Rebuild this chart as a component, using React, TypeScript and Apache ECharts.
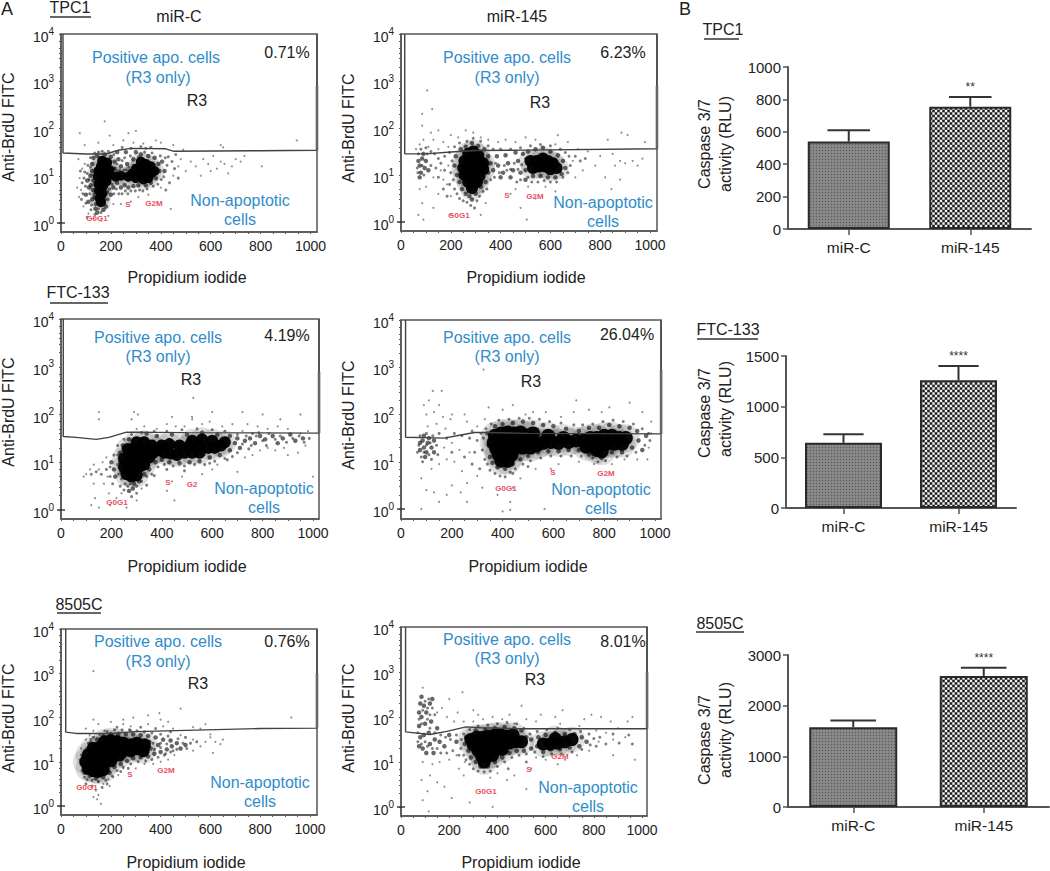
import React, { useEffect, useRef } from "react";
import * as echarts from "echarts";

type P = number[][];

const xTickLabels = [0, 200, 400, 600, 800, 1000];
const xTickMarks = [0, 50, 100, 150, 200, 250, 300, 350, 400, 450, 500, 550, 600, 650, 700, 750, 800, 850, 900, 950, 1000];
const yTickLabels = [0, 1, 2, 3, 4];
const yTickMarks = [0, 0.3, 0.48, 0.6, 0.7, 0.85, 1, 1.3, 1.48, 1.6, 1.7, 1.85, 2, 2.3, 2.48, 2.6, 2.7, 2.85, 3, 3.3, 3.48, 3.6, 3.7, 3.85, 4];

// ---- TPC1 miR-C
const p1Core: P = [[165,1.32],[185,1.28],[160,1.2],[180,1.18],[195,1.12],[150,1.1],[170,1.05],[190,1.0],[148,.98],[165,.92],[182,.88],[150,.82],[168,.78],[152,.68],[165,.62],[155,.52],[160,.44],[285,1.05],[300,1.15],[320,1.3],[340,1.25],[360,1.2],[375,1.1],[360,1.05],[340,1.1],[320,1.05],[300,.95],[330,.92],[350,.95],[315,1.18],[270,.98],[240,1.0],[220,.98]];
const p1Mid: P = [[125,1.1],[130,.9],[128,.7],[135,.55],[125,.5],[140,.4],[138,.3],[175,.5],[180,.35],[170,.28],[145,.22],[120,.8],[118,1.0],[112,.75],[105,.9],[125,1.25],[130,1.38],[145,1.42],[175,1.45],[200,1.4],[215,1.3],[215,1.15],[225,.85],[210,.75],[200,.6],[240,.75],[255,.8],[270,.75],[290,.78],[310,.8],[340,.8],[360,.85],[380,.95],[395,1.1],[390,1.25],[375,1.38],[350,1.42],[320,1.45],[290,1.35],[265,1.25],[240,1.2],[230,1.35],[100,.6],[110,.45],[185,.65],[415,1.1],[405,1.3],[260,1.5],[300,1.5],[225,1.5]];
const p1Dust: P = [[105,1.05],[115,.62],[122,.38],[132,.62],[118,1.18],[128,1.02],[112,.92],[98,.78],[92,.95],[88,.62],[100,.42],[120,.28],[136,.18],[150,.3],[160,.22],[175,.42],[188,.5],[195,.72],[205,.82],[212,.62],[222,.72],[232,.62],[245,.62],[258,.68],[268,.62],[280,.68],[298,.68],[315,.7],[328,.68],[345,.72],[370,.78],[388,.82],[402,.92],[412,.98],[425,1.22],[418,1.38],[398,1.42],[365,1.48],[335,1.5],[310,1.4],[278,1.42],[255,1.38],[245,1.32],[225,1.25],[212,1.45],[190,1.52],[165,1.52],[150,1.5],[135,1.48],[118,1.38],[108,1.22],[252,1.12],[262,1.12],[272,1.18],[235,1.12],[225,1.1],[430,1.4],[445,1.3],[435,.85],[420,.7],[460,1.45],[455,1.15],[470,.95],[95,1.08],[85,.85],[78,1.1],[82,.5],[105,.12],[360,1.6],[340,1.58],[320,1.62],[280,1.58],[245,1.6]];
const p1Sparse: P = [[75,.95],[80,.7],[72,.55],[85,1.15],[95,1.25],[70,1.35],[65,.75],[90,.35],[110,.2],[130,.1],[160,.05],[190,.15],[210,.4],[240,.4],[280,.45],[310,.55],[350,.6],[400,.75],[440,.3],[450,1.0],[470,1.2],[480,1.35],[500,1.1],[520,1.3],[540,1.2],[560,1.0],[570,1.35],[590,1.25],[600,1.1],[610,1.42],[625,1.15],[640,1.3],[655,1.25],[670,1.05],[685,1.2],[700,1.35],[720,1.3],[735,1.42],[805,1.2],[450,1.65],[490,1.55],[400,1.7],[380,1.75],[330,1.68],[290,1.7],[270,1.9],[250,1.75],[210,1.65],[175,2.15],[195,1.85],[75,1.9],[95,1.65],[945,1.75],[640,1.65],[650,1.6],[300,1.95],[150,1.7]];
const p1Gate: P = [[8,4],[8,1.48],[100,1.46],[180,1.46],[230,1.54],[280,1.58],[420,1.57],[450,1.52],[800,1.53],[1026,1.54],[1026,4]];
const p1Edge: P = [[1026,1.54],[1026,2.9]];

// ---- TPC1 miR-145
const p2Core: P = [[270,1.45],[290,1.5],[310,1.42],[255,1.3],[275,1.32],[295,1.33],[315,1.3],[330,1.25],[250,1.15],[270,1.15],[290,1.17],[310,1.15],[330,1.12],[255,1.0],[275,1.0],[295,1.0],[315,.98],[270,.85],[290,.82],[305,.85],[285,.72],[520,1.3],[545,1.3],[570,1.35],[590,1.3],[610,1.25],[530,1.15],[555,1.18],[580,1.18],[600,1.12],[625,1.15]];
const p2Mid: P = [[220,1.4],[215,1.2],[225,1.0],[235,.85],[245,.7],[260,.6],[275,.55],[300,.6],[285,.48],[320,.75],[340,.85],[350,1.05],[360,1.25],[350,1.4],[335,1.55],[310,1.62],[285,1.68],[260,1.6],[240,1.55],[370,1.1],[390,1.2],[410,1.05],[430,1.25],[450,1.1],[470,1.3],[385,1.4],[420,1.42],[460,1.48],[400,.95],[440,.95],[480,1.05],[500,1.1],[490,1.45],[510,1.5],[540,1.55],[570,1.58],[600,1.5],[630,1.42],[650,1.3],[660,1.15],[645,1.02],[620,.95],[590,.95],[560,.98],[530,.98],[500,.9],[75,1.2],[85,1.35],[80,1.05],[95,1.15],[70,1.3],[100,1.3],[110,1.1],[75,.95],[90,1.45]];
const p2Dust: P = [[205,1.3],[200,1.05],[210,.9],[195,.8],[215,.7],[225,.6],[235,.5],[250,.45],[265,.42],[280,.35],[295,.3],[305,.45],[315,.55],[330,.65],[345,.7],[360,.9],[375,.95],[380,1.25],[395,1.05],[415,1.2],[425,1.1],[440,1.12],[455,1.25],[470,1.12],[485,1.22],[500,1.35],[480,.9],[465,.85],[510,.95],[525,.85],[550,.85],[575,.88],[600,.85],[625,.85],[650,.95],[670,1.05],[680,1.2],[675,1.4],[660,1.48],[640,1.55],[600,1.62],[560,1.65],[520,1.62],[480,1.58],[440,1.55],[400,1.55],[370,1.55],[350,1.62],[320,1.72],[290,1.78],[265,1.72],[235,1.68],[215,1.6],[195,1.48],[175,1.4],[160,1.25],[175,1.1],[150,1.35],[135,1.45],[120,1.5],[100,1.58],[70,1.45],[65,1.15],[85,1.2],[92,1.0],[105,1.45],[80,1.55],[68,1.05],[120,1.2],[140,1.15],[150,.95],[170,.7],[185,.55],[700,1.4],[720,1.3],[740,1.35]];
const p2Sparse: P = [[60,1.55],[75,1.65],[90,1.75],[110,1.6],[130,1.75],[150,1.55],[170,1.7],[190,1.6],[120,1.9],[85,2.05],[105,2.8],[125,2.4],[85,2.3],[150,1.95],[200,1.85],[230,1.8],[260,1.95],[290,1.9],[320,1.8],[350,1.75],[390,1.7],[420,1.75],[460,1.7],[500,1.8],[540,1.75],[620,1.65],[670,1.7],[630,1.85],[710,1.55],[750,1.5],[800,1.4],[850,1.45],[880,1.3],[900,1.25],[930,1.3],[970,1.35],[950,1.2],[860,1.2],[780,1.2],[730,1.1],[700,.95],[690,1.3],[820,.95],[845,.7],[880,.9],[830,1.75],[885,1.9],[910,1.85],[980,1.7],[75,.7],[85,.4],[70,.15],[90,.05],[100,.75],[130,.95],[150,.6],[130,.3],[170,.9],[200,.55],[200,.15],[185,.8],[160,1.1],[190,1.2],[440,.6],[460,.7],[480,.3],[510,.75],[540,.5],[505,.05],[580,.75],[620,.65],[340,.4],[320,.15]];
const p2Gate: P = [[15,4],[15,1.45],[100,1.45],[200,1.49],[300,1.52],[500,1.53],[1028,1.56],[1028,4]];
const p2Edge: P = [[1028,1.56],[1028,2.9]];

// ---- FTC-133 miR-C
const p3Core: P = [[260,.75],[280,.7],[300,.72],[250,.9],[270,.9],[290,.9],[310,.9],[330,.95],[250,1.08],[270,1.1],[290,1.1],[310,1.1],[330,1.12],[350,1.1],[265,1.28],[285,1.28],[305,1.28],[325,1.28],[345,1.25],[365,1.2],[300,1.42],[330,1.42],[360,1.35],[385,1.25],[410,1.2],[435,1.18],[460,1.15],[490,1.2],[520,1.2],[550,1.2],[400,1.35],[430,1.38],[470,1.35],[510,1.35],[550,1.35],[585,1.3],[610,1.3],[635,1.35],[600,1.45],[560,1.48],[520,1.45],[650,1.42]];
const p3Mid: P = [[240,.8],[235,1.0],[235,1.2],[245,1.35],[270,1.48],[290,.55],[310,.6],[330,.75],[350,.85],[375,1.0],[400,1.05],[430,1.0],[470,.98],[510,1.0],[550,1.02],[590,1.1],[630,1.15],[670,1.25],[690,1.4],[700,1.5],[670,1.55],[620,1.58],[560,1.62],[500,1.58],[440,1.58],[380,1.55],[340,1.6],[710,1.3],[730,1.45],[750,1.5],[770,1.4],[790,1.55],[810,1.48],[840,1.55],[860,1.4],[880,1.5],[910,1.58],[930,1.45],[960,1.5],[210,.85],[200,1.0],[215,.7],[270,.4],[285,.45]];
const p3Dust: P = [[225,.95],[225,1.15],[228,.75],[240,.65],[255,.55],[265,.5],[275,.55],[300,.5],[320,.6],[340,.7],[360,.75],[385,.9],[410,.95],[445,.92],[490,.92],[530,.95],[570,.95],[610,1.02],[650,1.08],[680,1.12],[700,1.2],[720,1.38],[735,1.55],[700,1.58],[650,1.65],[600,1.68],[540,1.7],[480,1.68],[420,1.65],[370,1.65],[320,1.62],[280,1.58],[250,1.48],[225,1.35],[210,1.15],[195,.9],[180,.85],[195,.7],[205,.55],[235,.5],[775,1.55],[800,1.45],[825,1.6],[850,1.48],[870,1.55],[895,1.42],[920,1.5],[945,1.55],[965,1.42],[985,1.5],[755,1.35],[785,1.62],[815,1.35],[760,1.6],[745,1.28],[660,1.05],[590,.98],[490,.82],[420,.85],[370,.72],[340,.52],[300,.35],[280,.28],[250,.42],[160,.75],[140,.8],[120,.75]];
const p3Sparse: P = [[100,.75],[115,.85],[130,.95],[150,.85],[165,1.0],[185,.7],[180,1.1],[170,.55],[190,.35],[130,.55],[90,.7],[135,.25],[120,.1],[150,.05],[195,.1],[220,.25],[240,.35],[260,.05],[300,.2],[320,.45],[420,.4],[450,.2],[440,.6],[480,.7],[560,.75],[600,.85],[620,.95],[700,.8],[1000,.7],[730,1.1],[760,1.15],[790,1.25],[820,1.3],[850,1.25],[885,1.3],[900,1.15],[940,1.2],[970,1.35],[950,1.6],[980,1.65],[900,1.7],[860,1.75],[820,1.7],[780,1.75],[740,1.8],[720,1.65],[680,1.8],[640,1.75],[590,1.85],[560,1.8],[520,1.9],[490,1.75],[455,1.75],[420,1.8],[380,1.7],[330,1.75],[300,1.7],[280,1.9],[305,2.0],[290,2.05],[150,1.9],[150,2.05],[525,2.35],[520,1.95],[720,2.05],[800,2.0],[950,2.0],[600,2.05],[440,1.95],[870,1.9]];
const p3Gate: P = [[9,4],[9,1.54],[60,1.52],[140,1.48],[190,1.52],[260,1.63],[500,1.62],[1024,1.61],[1024,4]];
const p3Edge: P = [[1024,1.61],[1024,2.9]];

// ---- FTC-133 miR-145
const p4Core: P = [[370,1.55],[395,1.6],[420,1.62],[445,1.6],[470,1.62],[495,1.55],[365,1.4],[390,1.42],[415,1.45],[440,1.45],[465,1.45],[490,1.42],[515,1.45],[375,1.28],[400,1.28],[425,1.28],[450,1.3],[480,1.3],[510,1.3],[535,1.35],[385,1.15],[410,1.15],[435,1.15],[395,1.02],[420,1.02],[560,1.4],[590,1.42],[620,1.4],[660,1.42],[690,1.45],[720,1.45],[745,1.5],[770,1.5],[800,1.55],[830,1.55],[860,1.5],[885,1.5],[730,1.32],[755,1.35],[780,1.35],[810,1.38],[840,1.38],[870,1.38],[770,1.25],[790,1.22],[580,1.55],[640,1.5],[520,1.6]];
const p4Mid: P = [[340,1.6],[345,1.35],[350,1.1],[360,.98],[380,.88],[410,.85],[440,.95],[470,1.05],[500,1.12],[540,1.2],[580,1.22],[620,1.22],[660,1.25],[700,1.25],[740,1.15],[790,1.08],[830,1.2],[870,1.2],[910,1.3],[935,1.45],[950,1.25],[965,1.55],[930,1.65],[900,1.72],[860,1.75],[820,1.78],[780,1.72],[740,1.72],[700,1.65],[650,1.7],[600,1.75],[560,1.78],[520,1.82],[480,1.85],[440,1.82],[400,1.8],[370,1.75],[75,1.25],[90,1.3],[105,1.4],[85,1.45],[100,1.2],[120,1.3],[130,1.45],[110,1.5],[75,1.4],[95,1.1],[130,1.2],[90,1.55]];
const p4Dust: P = [[325,1.5],[320,1.25],[330,1.05],[340,.95],[350,.82],[370,.75],[390,.7],[410,.68],[430,.78],[450,.85],[480,.95],[510,1.02],[550,1.08],[590,1.12],[630,1.12],[670,1.12],[710,1.12],[755,1.08],[775,1.0],[805,1.02],[850,1.1],[890,1.12],[925,1.2],[960,1.35],[980,1.45],[975,1.6],[950,1.7],[915,1.8],[875,1.85],[835,1.88],[795,1.85],[755,1.8],[715,1.78],[680,1.78],[630,1.82],[585,1.85],[545,1.9],[505,1.92],[465,1.92],[425,1.9],[385,1.88],[355,1.8],[335,1.7],[315,1.6],[300,1.45],[290,1.2],[65,1.2],[70,1.35],[80,1.1],[90,1.2],[100,1.35],[115,1.4],[125,1.55],[140,1.35],[145,1.15],[110,1.15],[120,1.05],[85,1.0],[75,1.55],[100,1.6],[150,1.6],[180,1.5],[210,1.6],[240,1.55],[270,1.5],[280,1.65],[200,1.2],[250,1.1],[280,.95],[310,.85],[440,.75],[500,.9]];
const p4Sparse: P = [[100,2.0],[90,2.2],[110,2.3],[125,2.5],[160,2.5],[130,2.05],[150,2.2],[165,1.95],[195,1.9],[140,1.8],[105,1.75],[175,1.7],[200,2.0],[250,2.0],[260,1.85],[300,1.75],[330,1.9],[345,2.15],[325,2.95],[440,2.2],[400,2.1],[490,2.0],[520,2.05],[570,2.05],[630,1.95],[690,2.3],[680,2.05],[740,2.1],[790,2.05],[820,2.15],[900,2.25],[950,2.05],[985,1.85],[985,1.6],[975,1.3],[970,1.05],[930,1.05],[880,1.05],[830,.95],[760,.95],[700,1.0],[620,.95],[590,.85],[530,.85],[470,.65],[440,.45],[430,.15],[380,.3],[320,.45],[300,.7],[260,.55],[240,.8],[210,1.0],[180,1.05],[150,.95],[120,.85],[80,.65],[100,.4],[130,.35],[150,.15],[200,.5],[260,.15],[180,.3],[235,.35],[565,.0],[400,-.05],[430,-.02],[80,.0],[270,1.2],[230,1.25],[170,1.3],[200,1.4]];
const p4Gate: P = [[18,4],[18,1.52],[170,1.5],[230,1.56],[290,1.62],[340,1.62],[500,1.6],[1024,1.59],[1024,4]];
const p4Edge: P = [[1024,1.59],[1024,2.95]];

// ---- 8505C miR-C
const p5Core: P = [[110,.85],[130,.8],[150,.78],[170,.82],[100,1.0],[125,1.0],[150,1.0],[175,1.0],[200,1.02],[110,1.15],[135,1.15],[160,1.18],[185,1.18],[210,1.18],[235,1.15],[130,1.3],[155,1.32],[180,1.35],[205,1.35],[230,1.32],[255,1.28],[280,1.25],[175,1.45],[200,1.48],[225,1.45],[250,1.42],[280,1.38],[305,1.3],[330,1.25],[305,1.42],[335,1.38]];
const p5Mid: P = [[90,.9],[90,1.1],[95,.75],[115,.68],[140,.62],[170,.65],[195,.75],[215,.88],[240,.95],[265,1.02],[290,1.08],[320,1.1],[350,1.12],[375,1.18],[400,1.22],[425,1.28],[445,1.35],[465,1.42],[440,1.48],[410,1.5],[380,1.55],[350,1.58],[320,1.6],[290,1.62],[260,1.62],[230,1.62],[200,1.62],[170,1.58],[145,1.5],[120,1.42],[105,1.28],[360,1.3],[390,1.38],[355,1.45],[480,1.3],[500,1.38]];
const p5Dust: P = [[80,.95],[82,1.15],[85,.8],[95,.65],[105,.6],[125,.58],[150,.55],[180,.58],[205,.68],[225,.8],[250,.88],[280,.95],[310,1.0],[340,1.02],[365,1.05],[390,1.1],[415,1.15],[440,1.22],[465,1.28],[490,1.42],[470,1.52],[430,1.58],[400,1.62],[365,1.65],[335,1.68],[305,1.7],[275,1.72],[245,1.72],[215,1.72],[185,1.68],[155,1.62],[130,1.55],[110,1.42],[95,1.25],[120,1.5],[340,1.5],[370,1.42],[400,1.42],[425,1.4],[375,1.28],[345,1.22],[310,1.18],[285,1.15],[260,1.12],[400,1.32],[420,1.18],[450,1.25],[505,1.3],[520,1.42],[545,1.45],[500,1.55],[440,1.68],[380,1.75],[320,1.78],[280,1.7],[225,1.78],[185,.5],[165,.42],[240,.78],[270,.85],[100,.5],[125,.45]];
const p5Sparse: P = [[80,1.3],[75,1.05],[100,1.5],[130,1.7],[150,1.85],[100,1.75],[130,1.95],[115,1.6],[150,.55],[170,.5],[190,.6],[210,.65],[140,.35],[150,.25],[145,.15],[130,.2],[160,.05],[195,.45],[230,.7],[250,.85],[300,.85],[335,.95],[370,.95],[400,1.0],[430,1.05],[455,1.15],[530,1.25],[560,1.35],[530,1.5],[580,1.45],[600,1.55],[610,1.2],[620,1.45],[650,1.5],[640,1.4],[600,1.62],[560,1.75],[530,1.78],[480,1.6],[450,1.75],[410,1.8],[400,1.95],[350,1.85],[350,2.05],[395,2.1],[430,1.9],[250,1.85],[280,1.8],[290,2.0],[250,1.95],[130,3.05],[925,2.0],[580,1.85],[200,1.9],[175,1.7],[480,2.2]];
const p5Gate: P = [[19,4],[19,1.67],[60,1.64],[200,1.64],[300,1.68],[500,1.71],[800,1.75],[1028,1.76],[1028,4]];
const p5Edge: P = [[1028,1.76],[1028,3.0]];

// ---- 8505C miR-145
const p6Core: P = [[290,1.5],[315,1.55],[340,1.55],[365,1.58],[390,1.6],[415,1.6],[440,1.58],[465,1.6],[300,1.38],[325,1.4],[350,1.42],[375,1.42],[400,1.42],[425,1.42],[450,1.42],[475,1.45],[500,1.45],[320,1.25],[345,1.27],[370,1.27],[395,1.28],[420,1.28],[335,1.12],[358,1.12],[380,1.15],[345,1.0],[590,1.4],[620,1.4],[650,1.42],[680,1.45],[710,1.5],[640,1.52]];
const p6Mid: P = [[270,1.55],[265,1.4],[280,1.25],[290,1.1],[310,1.0],[330,.9],[360,.9],[390,1.0],[420,1.1],[450,1.2],[480,1.25],[510,1.25],[540,1.3],[520,1.55],[500,1.7],[470,1.75],[430,1.78],[390,1.75],[350,1.72],[310,1.7],[540,1.5],[565,1.35],[570,1.55],[600,1.6],[640,1.65],[680,1.62],[720,1.62],[750,1.55],[770,1.45],[740,1.35],[700,1.32],[660,1.28],[620,1.28],[590,1.22],[75,1.8],[85,2.0],[95,2.25],[80,2.3],[105,2.1],[120,2.3],[100,1.85],[125,1.9],[80,1.55],[95,1.6],[115,1.65],[75,1.35],[90,1.3],[120,1.4],[140,1.5],[150,1.75],[160,1.45],[105,1.2],[130,2.4],[85,2.45],[75,2.1],[135,1.2],[180,1.35],[200,1.6],[230,1.45]];
const p6Dust: P = [[250,1.5],[248,1.3],[260,1.15],[270,1.05],[285,.95],[300,.85],[320,.8],[345,.78],[370,.8],[400,.9],[430,1.0],[460,1.1],[490,1.15],[520,1.18],[555,1.22],[590,1.12],[625,1.18],[665,1.18],[710,1.22],[750,1.28],[785,1.38],[800,1.52],[780,1.62],[745,1.68],[700,1.72],[650,1.75],[605,1.72],[565,1.68],[535,1.62],[510,1.75],[480,1.85],[440,1.88],[400,1.85],[360,1.82],[320,1.8],[285,1.72],[260,1.62],[230,1.6],[205,1.5],[185,1.55],[165,1.6],[140,1.65],[120,1.75],[110,1.95],[90,2.15],[85,1.85],[75,1.95],[70,1.65],[70,1.45],[85,1.4],[100,1.45],[110,1.35],[130,1.3],[150,1.3],[165,1.2],[190,1.2],[215,1.25],[240,1.15],[100,2.35],[115,2.4],[130,2.2],[110,2.2],[140,2.05],[120,2.05],[825,1.55],[850,1.4],[880,1.62],[905,1.42],[945,1.6],[960,1.4],[810,1.35],[520,1.0],[445,.85]];
const p6Sparse: P = [[90,2.65],[200,2.4],[255,2.55],[235,2.1],[170,2.2],[150,2.1],[190,2.0],[220,1.9],[260,1.9],[300,2.15],[320,2.05],[300,1.9],[340,1.95],[380,2.0],[420,1.95],[450,2.05],[470,1.85],[520,1.95],[560,1.9],[580,2.05],[500,2.25],[640,2.0],[670,2.15],[660,1.85],[740,1.8],[760,1.95],[810,1.7],[850,1.65],[900,1.75],[930,1.55],[880,1.5],[940,1.9],[960,2.0],[870,1.9],[830,2.0],[790,2.05],[820,1.45],[780,1.25],[730,1.15],[680,1.05],[650,.95],[600,1.05],[560,1.1],[970,1.05],[880,1.15],[540,.85],[520,.4],[470,.7],[440,.6],[400,.75],[370,.65],[260,.7],[265,1.0],[230,1.15],[200,1.05],[160,1.0],[130,.95],[90,1.0],[85,.6],[110,.35],[120,.7],[150,.55],[180,.45],[90,.15],[115,-.1],[210,.2],[240,.85],[380,.0],[285,.1],[530,2.85]];
const p6Gate: P = [[19,4],[19,1.67],[120,1.61],[190,1.68],[270,1.78],[330,1.76],[500,1.74],[1021,1.74],[1021,4]];
const p6Edge: P = [[1021,1.74],[1021,3.0]];

// ---- Caspase bars
const barCategories = ["miR-C", "miR-145"];
const tpc1Means = [540, 755];
const tpc1Tops = [610, 815];
const tpc1Stars = ["", "**"];
const ftcMeans = [643, 1260];
const ftcTops = [729, 1401];
const ftcStars = ["", "****"];
const c8505Means = [1575, 2586];
const c8505Tops = [1707, 2750];
const c8505Stars = ["", "****"];

const scatterPanels = [
  { coreSize: 10, core: p1Core, mid: p1Mid, dust: p1Dust, sparse: p1Sparse, gate: p1Gate, edge: p1Edge, x0: 61, x1k: 310.5, right: 317, tick: 223, top: 34, bottom: 232 },
  { coreSize: 12, core: p2Core, mid: p2Mid, dust: p2Dust, sparse: p2Sparse, gate: p2Gate, edge: p2Edge, x0: 401, x1k: 650, right: 657, tick: 222, top: 34, bottom: 231 },
  { coreSize: 12, core: p3Core, mid: p3Mid, dust: p3Dust, sparse: p3Sparse, gate: p3Gate, edge: p3Edge, x0: 61, x1k: 313, right: 319, tick: 510, top: 319, bottom: 519 },
  { coreSize: 14, core: p4Core, mid: p4Mid, dust: p4Dust, sparse: p4Sparse, gate: p4Gate, edge: p4Edge, x0: 401, x1k: 655, right: 661, tick: 509, top: 320, bottom: 519 },
  { coreSize: 13, core: p5Core, mid: p5Mid, dust: p5Dust, sparse: p5Sparse, gate: p5Gate, edge: p5Edge, x0: 61, x1k: 310, right: 317, tick: 806, top: 629, bottom: 815 },
  { coreSize: 13, core: p6Core, mid: p6Mid, dust: p6Dust, sparse: p6Sparse, gate: p6Gate, edge: p6Edge, x0: 401, x1k: 642, right: 647, tick: 807, top: 627, bottom: 816 },
];

const barPanels = [
  { means: tpc1Means, tops: tpc1Tops, stars: tpc1Stars, left: 788, right: 1031, y0: 229, yMax: 67, max: 1000, interval: 200, barWidth: 82 },
  { means: ftcMeans, tops: ftcTops, stars: ftcStars, left: 786, right: 1016, y0: 508, yMax: 356, max: 1500, interval: 500, barWidth: 77 },
  { means: c8505Means, tops: c8505Tops, stars: c8505Stars, left: 788, right: 1049, y0: 807, yMax: 655, max: 3000, interval: 1000, barWidth: 88 },
];

const BLUE = "#2f8cca";
const INK = "#222222";
const RED = "#e8515f";
const FONT = "Liberation Sans";
const AXIS = "#555555";

// [text, x, y]
const blueTexts: [string, number, number][] = [
  ["Positive apo. cells", 156, 57], ["(R3 only)", 158, 77], ["Non-apoptotic", 240, 200], ["cells", 240, 219],
  ["Positive apo. cells", 507, 57], ["(R3 only)", 507, 77], ["Non-apoptotic", 603, 202], ["cells", 603, 221],
  ["Positive apo. cells", 158, 337], ["(R3 only)", 158, 356], ["Non-apoptotic", 264, 488], ["cells", 264, 507],
  ["Positive apo. cells", 507, 337], ["(R3 only)", 507, 356], ["Non-apoptotic", 601, 489], ["cells", 601, 508],
  ["Positive apo. cells", 158, 641], ["(R3 only)", 158, 661], ["Non-apoptotic", 260, 782], ["cells", 260, 801],
  ["Positive apo. cells", 507, 639], ["(R3 only)", 507, 658], ["Non-apoptotic", 588, 787], ["cells", 588, 806],
];
const inkTexts: [string, number, number][] = [
  ["miR-C", 179, 16], ["miR-145", 517, 16],
  ["R3", 197, 100], ["0.71%", 287, 52], ["R3", 540, 102], ["6.23%", 623, 52],
  ["R3", 191, 379], ["4.19%", 287, 335], ["R3", 531, 381], ["26.04%", 627, 334],
  ["R3", 198, 683], ["0.76%", 287, 641], ["R3", 535, 679], ["8.01%", 623, 641],
  ["Propidium iodide", 187, 277], ["Propidium iodide", 526, 277],
  ["Propidium iodide", 187, 566], ["Propidium iodide", 528, 566],
  ["Propidium iodide", 186, 862], ["Propidium iodide", 521, 862],
  ["TPC1", 70, 7], ["FTC-133", 78, 292], ["8505C", 79, 604],
  ["TPC1", 723, 29], ["FTC-133", 728, 329], ["8505C", 720, 623],
];
const panelLetters: [string, number, number][] = [["A", 7, 9], ["B", 685, 9]];
const verticalTexts: [string, number, number][] = [
  ["Anti-BrdU FITC", 8, 127], ["Anti-BrdU FITC", 348, 128],
  ["Anti-BrdU FITC", 8, 412], ["Anti-BrdU FITC", 348, 415],
  ["Anti-BrdU FITC", 8, 718], ["Anti-BrdU FITC", 348, 718],
  ["Caspase 3/7", 704, 144], ["activity (RLU)", 725, 144],
  ["Caspase 3/7", 704, 413], ["activity (RLU)", 725, 409],
  ["Caspase 3/7", 704, 740], ["activity (RLU)", 725, 730],
];
const phaseTexts: [string, number, number][] = [
  ["G0G1", 97, 218], ["S", 128, 204], ["G2M", 154, 203],
  ["G0G1", 459, 215], ["S", 507, 195], ["G2M", 535, 196],
  ["G0G1", 117, 502], ["S", 168, 482], ["G2", 192, 484],
  ["G0G1", 506, 488], ["S", 553, 472], ["G2M", 606, 473],
  ["G0G1", 87, 787], ["S", 130, 774], ["G2M", 166, 770],
  ["G0G1", 486, 791], ["S", 529, 769], ["G2M", 560, 756],
];
const underlines: [number, number, number][] = [
  [50, 91, 17], [50, 108, 303], [57, 101, 613], [704, 739, 39], [697, 758, 339], [696, 744, 632],
];

function fineCanvas() {
  const c = document.createElement("canvas");
  c.width = 3; c.height = 3;
  const g = c.getContext("2d")!;
  g.fillStyle = "#828282"; g.fillRect(0, 0, 3, 3);
  g.fillStyle = "#5a5a5a"; g.fillRect(0, 0, 1, 1);
  g.fillStyle = "#a4a4a4"; g.fillRect(1.5, 1.5, 1, 1);
  return c;
}
function coarseCanvas() {
  const c = document.createElement("canvas");
  c.width = 5; c.height = 5;
  const g = c.getContext("2d")!;
  g.fillStyle = "#7a7a7a"; g.fillRect(0, 0, 5, 5);
  g.fillStyle = "#f4f4f4"; g.fillRect(0, 0, 2, 2); g.fillRect(2.5, 2.5, 2, 2);
  g.fillStyle = "#1c1c1c"; g.fillRect(2.5, 0, 2, 2); g.fillRect(0, 2.5, 2, 2);
  return c;
}

function buildOption() {
  const grid: any[] = [];
  const xAxis: any[] = [];
  const yAxis: any[] = [];
  const series: any[] = [];
  const graphic: any[] = [];

  scatterPanels.forEach((p, i) => {
    const scale = (p.x1k - p.x0) / 1000;
    const dec = (p.tick - p.top) / 4;
    grid.push({ left: p.x0, top: p.top, width: p.right - p.x0, height: p.bottom - p.top, show: true, borderColor: AXIS, borderWidth: 1.5, backgroundColor: "transparent" });
    xAxis.push({
      type: "value", gridIndex: i, min: 0, max: (p.right - p.x0) / scale, splitLine: { show: false },
      axisLine: { show: true, onZero: false, lineStyle: { color: AXIS, width: 1.5 } },
      axisTick: { show: true, length: 2, customValues: xTickMarks, lineStyle: { color: AXIS, width: 1 } },
      axisLabel: { customValues: xTickLabels, margin: 7, color: INK, fontFamily: FONT, fontSize: 14, hideOverlap: false, formatter: (v: number) => String(v) },
    });
    yAxis.push({
      type: "value", gridIndex: i, min: -(p.bottom - p.tick) / dec, max: 4, splitLine: { show: false },
      axisLine: { show: true, onZero: false, lineStyle: { color: AXIS, width: 1.5 } },
      axisTick: { show: true, length: 2, customValues: yTickMarks, lineStyle: { color: AXIS, width: 1 } },
      axisLabel: {
        customValues: yTickLabels, margin: 7, color: INK, fontFamily: FONT, hideOverlap: false,
        formatter: (v: number) => `{b|10}{s|${Math.round(v)}}`,
        rich: {
          b: { fontSize: 14, fontFamily: FONT, color: INK, padding: [6, 0, 0, 0] },
          s: { fontSize: 10, fontFamily: FONT, color: INK, padding: [0, 0, 6, 0] },
        },
      },
    });
    const scatter = (data: P, size: number, opacity: number, z: number) => ({
      type: "scatter", xAxisIndex: i, yAxisIndex: i, data, symbol: "circle", symbolSize: size, silent: true, z,
      itemStyle: { color: "#000", opacity },
    });
    series.push(
      scatter(p.sparse, 2, 0.45, 2),
      scatter(p.core, p.coreSize * 2, 0.12, 2),
      scatter(p.dust, 3, 0.5, 3),
      scatter(p.mid, 4.5, 0.6, 3),
      scatter(p.core, p.coreSize, 0.96, 4),
    );
    series.push({ type: "line", xAxisIndex: i, yAxisIndex: i, data: p.gate, symbol: "none", clip: false, silent: true, z: 6, lineStyle: { color: "#3c4444", width: 1.4 } });
    series.push({ type: "line", xAxisIndex: i, yAxisIndex: i, data: p.edge, symbol: "none", clip: false, silent: true, z: 6, lineStyle: { color: "#666", width: 2.6 } });
    graphic.push({ type: "line", z: 50, shape: { x1: p.x0 - 4, y1: p.tick, x2: p.x0 + 4, y2: p.tick }, style: { stroke: "#333", lineWidth: 1.4 } });
  });

  const fine = { image: fineCanvas(), repeat: "repeat" };
  const coarse = { image: coarseCanvas(), repeat: "repeat" };

  barPanels.forEach((b, j) => {
    const i = scatterPanels.length + j;
    grid.push({ left: b.left, top: b.yMax, width: b.right - b.left, height: b.y0 - b.yMax });
    xAxis.push({
      type: "category", gridIndex: i, data: barCategories,
      axisLine: { show: true, lineStyle: { color: AXIS, width: 2 } },
      axisTick: { show: true, alignWithLabel: true, length: 6, lineStyle: { color: AXIS, width: 1.5 } },
      axisLabel: { color: INK, fontFamily: FONT, fontSize: 15.5, margin: 10 },
    });
    yAxis.push({
      type: "value", gridIndex: i, min: 0, max: b.max, interval: b.interval, splitLine: { show: false },
      axisLine: { show: true, lineStyle: { color: AXIS, width: 2 } },
      axisTick: { show: true, length: 5, lineStyle: { color: AXIS, width: 1.5 } },
      axisLabel: { color: INK, fontFamily: FONT, fontSize: 15, margin: 7, formatter: (v: number) => String(v) },
    });
    series.push({
      type: "bar", xAxisIndex: i, yAxisIndex: i, barWidth: b.barWidth, silent: true, z: 3,
      data: b.means.map((v, k) => ({ value: v, itemStyle: { color: k === 0 ? fine : coarse, borderColor: "#2a2a2a", borderWidth: 2 } })),
    });
    series.push({
      type: "custom", xAxisIndex: i, yAxisIndex: i, silent: true, z: 4,
      data: b.means.map((v, k) => [k, v, b.tops[k], k]),
      renderItem: (_: any, api: any) => {
        const k = api.value(0);
        const low = api.coord([k, api.value(1)]);
        const high = api.coord([k, api.value(2)]);
        const half = api.size([1, 0])[0] * 0.175;
        const stroke = { stroke: "#333", lineWidth: 2 };
        const children: any[] = [
          { type: "line", shape: { x1: low[0], y1: low[1], x2: high[0], y2: high[1] }, style: stroke },
          { type: "line", shape: { x1: low[0] - half, y1: high[1], x2: low[0] + half, y2: high[1] }, style: stroke },
        ];
        const star = b.stars[api.value(3)];
        if (star) children.push({ type: "text", style: { text: star, x: low[0], y: high[1] - 10, fill: "#333", fontFamily: FONT, fontSize: 12, align: "center", verticalAlign: "middle" } });
        return { type: "group", children };
      },
    });
  });

  const text = (t: [string, number, number], fontSize: number, fill: string, extra: any = {}) => ({
    type: "text", x: t[1], y: t[2], z: 60, ...extra,
    style: { text: t[0], fill, fontFamily: FONT, fontSize, fontWeight: extra.fontWeight, align: "center", verticalAlign: "middle" },
  });
  blueTexts.forEach((t) => graphic.push(text(t, 16, BLUE)));
  inkTexts.forEach((t) => graphic.push(text(t, 16, INK)));
  panelLetters.forEach((t) => graphic.push(text(t, 18, INK)));
  verticalTexts.forEach((t) => graphic.push(text(t, 16, INK, { rotation: Math.PI / 2 })));
  phaseTexts.forEach((t) => graphic.push(text(t, 8, RED, { fontWeight: "bold" })));
  underlines.forEach((u) => graphic.push({ type: "line", z: 60, shape: { x1: u[0], y1: u[2], x2: u[1], y2: u[2] }, style: { stroke: "#333", lineWidth: 1.5 } }));

  return { animation: false, backgroundColor: "#fff", tooltip: { show: false }, grid, xAxis, yAxis, series, graphic };
}

export default function App() {
  const ref = useRef<HTMLDivElement>(null);
  useEffect(() => {
    document.body.style.margin = "0";
    const chart = echarts.init(ref.current!, undefined, { renderer: "svg" });
    chart.setOption(buildOption() as any);
    return () => chart.dispose();
  }, []);
  return <div ref={ref} style={{ width: 1050, height: 871 }} />;
}
